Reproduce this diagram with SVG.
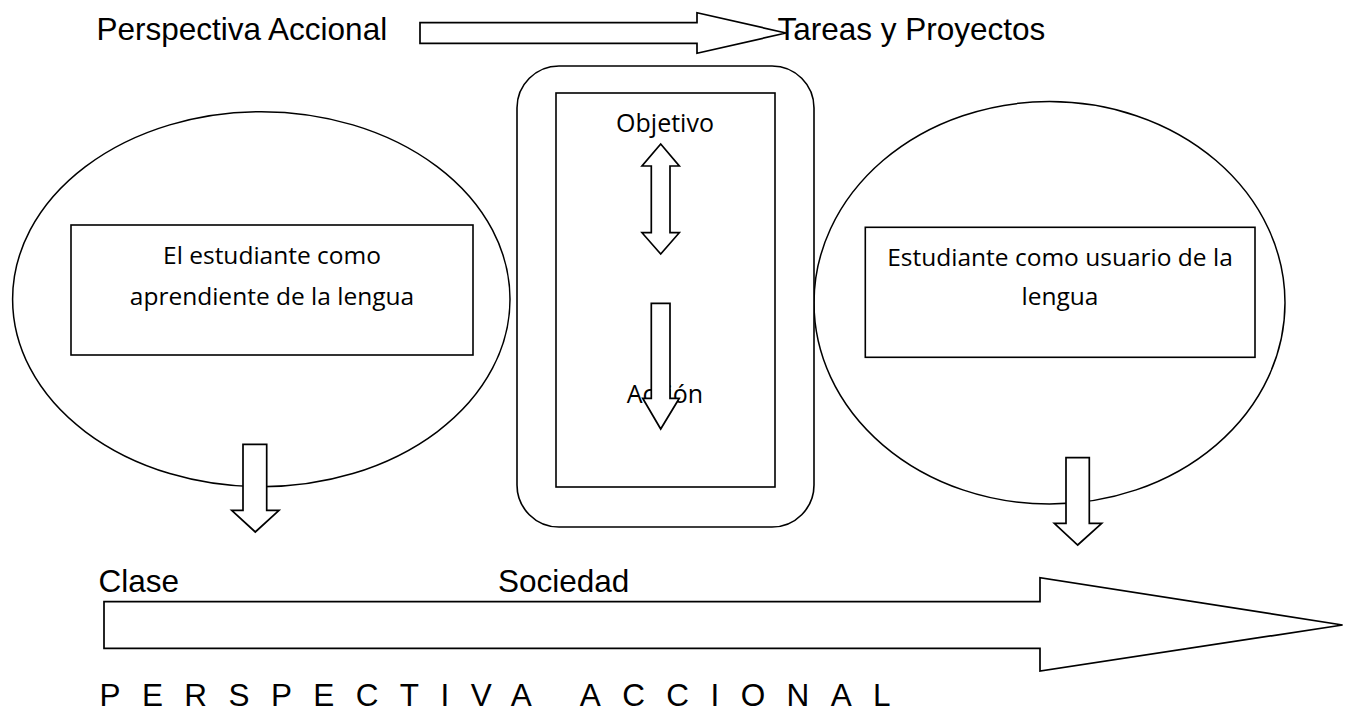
<svg xmlns="http://www.w3.org/2000/svg" width="1345" height="711" viewBox="0 0 1345 711">
<style>
  .ln { fill: #ffffff; stroke: #000000; stroke-width: 1.6; }
  .el { fill: none; stroke: #000000; stroke-width: 1.5; }
  .blk { fill: #ffffff; stroke: #000000; stroke-width: 1.7; stroke-linejoin: miter; }
  .ar { font-family: "Liberation Sans", Arial, sans-serif; font-size: 31.5px; fill: #000000; }
  .cb { font-family: "Open Sans", "Noto Sans", sans-serif; font-size: 24.5px; fill: #000000; text-anchor: middle; }
  .cc { font-family: "Open Sans", "Noto Sans", sans-serif; font-size: 25px; fill: #000000; text-anchor: middle; }
</style>
<rect width="1345" height="711" fill="#ffffff"/>

<g id="titulo-perspectiva">
  <text class="ar" x="96.5" y="40">Perspectiva Accional</text>
</g>
<g id="titulo-tareas">
  <text class="ar" x="777.5" y="40">Tareas y Proyectos</text>
</g>

<g id="estudiante-aprendiente">
  <ellipse class="el" cx="261.3" cy="299.2" rx="248.7" ry="187.5"/>
  <rect class="ln" x="71" y="225" width="402" height="130"/>
  <text class="cb" x="272" y="264">El estudiante como</text>
  <text class="cb" x="272" y="305">aprendiente de la lengua</text>
</g>

<g id="estudiante-usuario">
  <ellipse class="el" cx="1049.5" cy="302.8" rx="235.5" ry="201.2"/>
  <rect class="ln" x="865.3" y="227.3" width="389.7" height="130"/>
  <text class="cb" x="1060" y="265.5">Estudiante como usuario de la</text>
  <text class="cb" x="1060" y="305">lengua</text>
</g>

<g id="objetivo-accion">
  <rect class="ln" x="517" y="66" width="297" height="461" rx="42" ry="42"/>
  <rect class="ln" x="556" y="93" width="219" height="394"/>
  <text class="cc" x="665" y="132">Objetivo</text>
  <text class="cc" x="665" y="403">Acción</text>
</g>

<g id="clase">
  <text class="ar" x="98.5" y="592">Clase</text>
</g>
<g id="sociedad">
  <text class="ar" x="498" y="592">Sociedad</text>
</g>
<g id="perspectiva-accional">
  <text class="ar" x="99.5" y="706" letter-spacing="21.4">PERSPECTIVA ACCIONAL</text>
</g>

<g id="connectors">
  <polygon class="blk" points="420,22.7 697,22.7 697,12.7 786,33 697,53.3 697,43.3 420,43.3"/>
  <polygon class="blk" points="660.7,144 679.3,166 670,166 670,232.7 679.3,232.7 660.7,254 642,232.7 651.3,232.7 651.3,166 642,166"/>
  <polygon class="blk" points="651.3,303.3 670,303.3 670,398.3 679.3,398.3 660.7,429 642.7,398.3 651.3,398.3"/>
  <polygon class="blk" points="243,444.3 266.7,444.3 266.7,510.3 279,510.3 255.3,532 231.7,510.3 243,510.3"/>
  <polygon class="blk" points="1066,457.7 1089.3,457.7 1089.3,523.3 1101.7,523.3 1077.7,545 1054.3,523.3 1066,523.3"/>
  <polygon class="blk" points="104,601.7 1040,601.7 1040,577.7 1342.6,625 1040,671 1040,648.3 104,648.3"/>
</g>
</svg>
